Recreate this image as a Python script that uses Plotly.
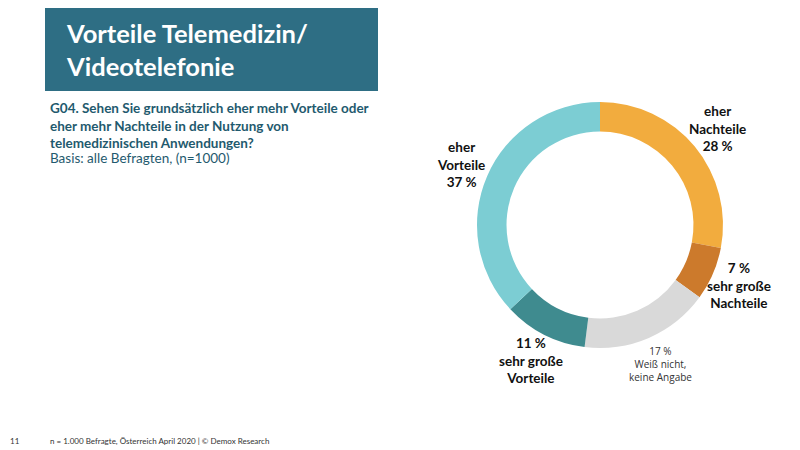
import math
import plotly.graph_objects as go

# ---- data ----
categories = ["eher<br>Nachteile", "sehr große<br>Nachteile", "Weiß nicht,<br>keine Angabe",
              "sehr große<br>Vorteile", "eher<br>Vorteile"]
values = [28, 7, 17, 11, 37]
colors = ["#F2AC3E", "#CC7A2C", "#D9D9D9", "#3F8B8F", "#7CCDD3"]
pct_first = [False, True, True, True, False]
bold = [True, True, False, True, True]

# page has an 8px body margin; work in page pixels and convert
OFF = 8
W, H = 792, 442


def px_x(x):
    return (x - OFF) / W


def px_y(y):
    return 1 - (y - OFF) / H


cx, cy, R = 600, 225, 123  # page-pixel center / radius of the donut

fig = go.Figure(go.Pie(
    values=values,
    labels=[c.replace("<br>", " ") for c in categories],
    marker=dict(colors=colors, line=dict(width=0)),
    hole=0.76,
    sort=False,
    direction="clockwise",
    rotation=0,
    textinfo="none",
    hoverinfo="label+percent",
    domain=dict(x=[px_x(cx - R), px_x(cx + R)], y=[px_y(cy + R), px_y(cy - R)]),
    showlegend=False,
))

FONT = "Lato, Roboto, sans-serif"
annotations = []
total = sum(values)
cum = 0
label_r = 152
for cat, v, pf, b in zip(categories, values, pct_first, bold):
    mid = (cum + v / 2) / total * 2 * math.pi
    cum += v
    lx = cx + label_r * math.sin(mid)
    ly = cy - label_r * math.cos(mid)
    pct = f"{v} %"
    txt = f"{pct}<br>{cat}" if pf else f"{cat}<br>{pct}"
    if b:
        txt = "<b>" + txt.replace("<br>", "</b><br><b>") + "</b>"
    annotations.append(dict(
        x=px_x(lx), y=px_y(ly), xref="paper", yref="paper",
        text=txt, showarrow=False, align="center",
        xanchor="center", yanchor="middle",
        font=dict(family=FONT if b else "Open Sans, sans-serif", size=13.5 if b else 10,
                  color="#111111" if b else "#333333"),
    ))

# Title texts
annotations += [
    dict(x=px_x(64), y=px_y(49), xref="paper", yref="paper", xanchor="left", yanchor="middle",
         text="<b>Vorteile Telemedizin/<br>Videotelefonie</b>", showarrow=False, align="left",
         font=dict(family=FONT, size=25.5, color="white")),
    dict(x=px_x(48), y=px_y(98), xref="paper", yref="paper", xanchor="left", yanchor="top",
         text="<b>G04. Sehen Sie grundsätzlich eher mehr Vorteile oder<br>eher mehr Nachteile in der Nutzung von<br>telemedizinischen Anwendungen?</b>",
         showarrow=False, align="left",
         font=dict(family=FONT, size=13.5, color="#1F5A6E")),
    dict(x=px_x(48), y=px_y(158), xref="paper", yref="paper", xanchor="left", yanchor="middle",
         text="Basis: alle Befragten, (n=1000)", showarrow=False, align="left",
         font=dict(family=FONT, size=13.5, color="#1F5A6E")),
    dict(x=px_x(8), y=px_y(441), xref="paper", yref="paper", xanchor="left", yanchor="middle",
         text="11", showarrow=False,
         font=dict(family=FONT, size=8, color="#333333")),
    dict(x=px_x(48), y=px_y(441), xref="paper", yref="paper", xanchor="left", yanchor="middle",
         text="n = 1.000 Befragte, Österreich April 2020 | © Demox Research", showarrow=False,
         font=dict(family=FONT, size=8, color="#333333")),
]

fig.update_layout(
    width=W, height=H,
    margin=dict(l=0, r=0, t=0, b=0),
    paper_bgcolor="white", plot_bgcolor="white",
    annotations=annotations,
    shapes=[dict(type="rect", xref="paper", yref="paper",
                 x0=px_x(45), x1=px_x(378), y0=px_y(91), y1=1.0,
                 fillcolor="#2E6E84", line=dict(width=0), layer="below")],
)

fig.write_html("out.html")
